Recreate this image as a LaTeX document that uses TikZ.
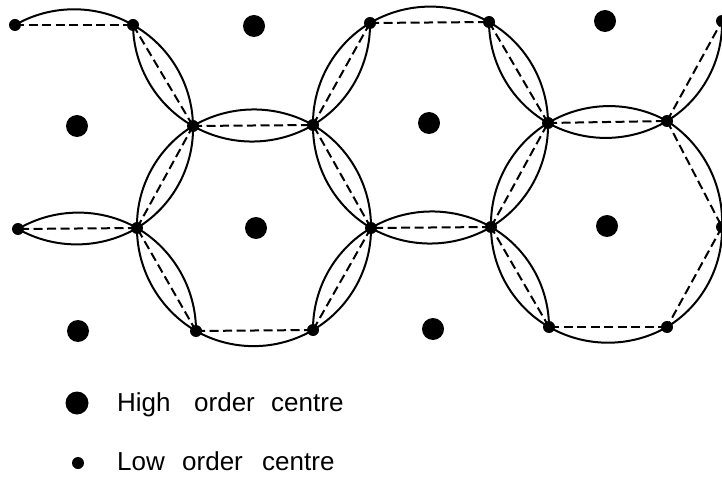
\documentclass[tikz,border=0pt]{standalone}
\usepackage{fontspec}
\setmainfont{Liberation Sans}
\begin{document}
\begin{tikzpicture}[x=1pt,y=1pt,
  arcline/.style={line width=2pt,looseness=0.91},
  dashline/.style={line width=2pt,dash pattern=on 9pt off 4.5pt},
  bigdot/.style={circle,fill=black,inner sep=0pt,minimum size=22pt},
  smalldot/.style={circle,fill=black,inner sep=0pt,minimum size=12pt},
  legtext/.style={anchor=base west,inner sep=0pt,font=\fontsize{26}{30}\selectfont}]
\useasboundingbox (0,0) rectangle (722,477);
% low order centres
\coordinate (a1) at (15,452);
\coordinate (a2) at (133,452);
\coordinate (a3) at (370,454);
\coordinate (a4) at (489,455);
\coordinate (a5) at (722,456);
\coordinate (b1) at (193,351);
\coordinate (b2) at (313,352);
\coordinate (b3) at (548,354);
\coordinate (b4) at (667,356);
\coordinate (c1) at (18,248);
\coordinate (c2) at (137,249);
\coordinate (c3) at (371,249);
\coordinate (c4) at (491,250);
\coordinate (c5) at (722,250);
\coordinate (d1) at (196,146);
\coordinate (d2) at (313,147);
\coordinate (d3) at (549,150);
\coordinate (d4) at (667,150);
% dashed links
\foreach \p/\q in {a1/a2,a2/b1,b1/b2,b2/a3,a3/a4,a4/b3,b3/b4,b4/a5,b4/c5,c5/d4,
                   d4/d3,d3/c4,c4/b3,c4/c3,c3/b2,c3/d2,d2/d1,d1/c2,c2/b1,c2/c1}
  \draw[dashline] (\p) -- (\q);
% single arcs
\foreach \p/\q in {a1/a2,a3/a4,b4/c5,c5/d4,d4/d3,d2/d1}
  \draw[arcline] (\p) to[bend left=30] (\q);
\draw[arcline] (b4) to[bend right=30] (a5);
% lenses
\foreach \p/\q in {a2/b1,b1/b2,b2/a3,a4/b3,b3/b4,d3/c4,c4/b3,c4/c3,c3/b2,c3/d2,d1/c2,c2/b1,c2/c1}
  \draw[arcline] (\p) to[bend left=30] (\q) (\p) to[bend right=30] (\q);
% dots
\foreach \p in {a1,a2,a3,a4,a5,b1,b2,b3,b4,c1,c2,c3,c4,c5,d1,d2,d3,d4}
  \node[smalldot] (n\p) at (\p) {};
\node[bigdot] (A) at (77,351) {};
\node[bigdot] (B) at (254,451) {};
\node[bigdot] (C) at (256,249) {};
\node[bigdot] (D) at (429,354) {};
\node[bigdot] (E) at (607,251) {};
\node[bigdot] (F) at (605,456) {};
\node[bigdot] (G) at (78,146) {};
\node[bigdot] (H) at (433,148) {};
% legend
\node[bigdot,minimum size=23pt] (lhigh) at (77,74) {};
\node[smalldot] (llow) at (78,14) {};
\node[legtext] (h1) at (117,66) {High};
\node[legtext] (h2) at (194,66) {order};
\node[legtext] (h3) at (271,66) {centre};
\node[legtext] (l1) at (117,7) {Low};
\node[legtext] (l2) at (182,7) {order};
\node[legtext] (l3) at (262,7) {centre};
\end{tikzpicture}
\end{document}
